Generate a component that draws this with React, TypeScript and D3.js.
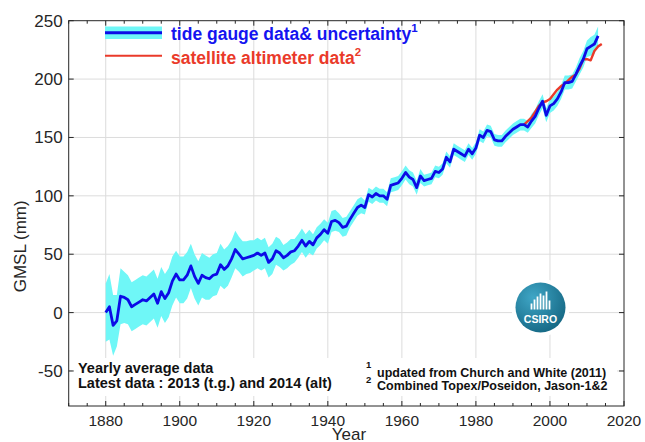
import React from "react";
import * as d3 from "d3";

// yearly GMSL (mm), tide gauge reconstruction, 1880..2013
const tgStart = 1880;
const tideGauge = [
  0, 5, -11, -7, 14, 13, 11, 5, 7, 9,
  11, 10, 13, 16, 8, 18, 12, 17, 27, 33,
  28, 28, 32, 40, 31, 25, 32, 30, 29, 32,
  33, 41, 37, 40, 46, 54, 50, 46, 47, 48,
  49, 51, 49, 51, 43, 46, 53, 51, 47, 49,
  52, 53, 57, 62, 57, 61, 58, 64, 67, 71,
  68, 78, 79, 77, 73, 74, 80, 85, 90, 92,
  90, 101, 99, 102, 100, 100, 97, 109, 110, 111,
  115, 120, 116, 114, 107, 117, 113, 114, 115, 121,
  120, 123, 133, 129, 140, 138, 136, 134, 140, 136,
  141, 152, 150, 156, 155, 148, 147, 147, 151, 154,
  157, 159, 161, 161, 159, 164, 168, 175, 181, 169,
  177, 179, 183, 189, 197, 197, 198, 204, 211, 217,
  226, 228, 230, 237,
];
// half width of the uncertainty band (mm)
const tgUncertainty = [
  25, 28, 26, 22, 24, 22, 21, 21, 21, 21,
  21, 21, 21, 21, 21, 21, 21, 21, 21, 20,
  20, 20, 20, 19, 19, 19, 19, 19, 18, 18,
  18, 18, 17, 17, 16, 16, 15, 15, 14, 14,
  13, 13, 13, 13, 13, 13, 12, 12, 11, 11,
  11, 10, 10, 10, 10, 10, 9, 9, 9, 9,
  9, 9, 9, 8, 8, 8, 7, 7, 7, 7,
  6, 6, 6, 6, 6, 6, 6, 6, 6, 6,
  6, 6, 6, 6, 6, 6, 5, 5, 5, 5,
  5, 5, 5, 5, 5, 5, 5, 5, 5, 5,
  5, 5, 5, 5, 5, 5, 5, 5, 5, 5,
  5, 5, 5, 5, 5, 6, 6, 6, 6, 6,
  6, 6, 6, 6, 6, 6, 6, 6, 7, 7,
  7, 8, 8, 8,
];
// satellite altimetry, 1993..2014
const altStart = 1993;
const altimeter = [
  161, 164, 167, 172, 177, 180, 181, 183, 187, 191,
  194, 196, 199, 202, 204, 209, 217, 217, 216, 224,
  228, 230,
];

const xTicks = [1880, 1900, 1920, 1940, 1960, 1980, 2000, 2020];
const yTicks = [-50, 0, 50, 100, 150, 200, 250];
const logoBars = [6, 10, 13, 16, 14, 18, 9];

const W = 645;
const H = 442;
const left = 68.7;
const right = 624;
const top = 20.7;
const bottom = 406;

const FONT = "'Liberation Sans', Arial, Helvetica, sans-serif";
const AXIS = "#262626";
const CYAN = "#6ff7f7";
const BLUE = "#0c0ce6";
const RED = "#ea3a2a";

type Pt = { year: number; v: number; u: number };

export default function App() {
  const x = d3.scaleLinear().domain([1870, 2020]).range([left, right]);
  const y = d3.scaleLinear().domain([-80, 250]).range([bottom, top]);

  const tg: Pt[] = tideGauge.map((v, i) => ({ year: tgStart + i, v, u: tgUncertainty[i] }));
  const alt = altimeter.map((v, i) => ({ year: altStart + i, v }));

  const band = d3
    .area<Pt>()
    .x((d) => x(d.year))
    .y0((d) => y(d.v - d.u))
    .y1((d) => y(d.v + d.u));
  const line = d3
    .line<{ year: number; v: number }>()
    .x((d) => x(d.year))
    .y((d) => y(d.v));

  const minor = d3.range(1870, 2021, 5).filter((t) => t % 20 !== 0);

  const cx = 540.5;
  const cy = 307.5;

  return (
    <svg
      width={W}
      height={H}
      style={{ position: "absolute", left: 0, top: 0, background: "#fff" }}
      fontFamily={FONT}
    >
      <rect width={W} height={H} fill="#fff" />
      {/* grid */}
      <g stroke="#dcdcdc" strokeWidth={1}>
        {xTicks.slice(0, -1).map((t) => (
          <line key={"gx" + t} x1={x(t)} x2={x(t)} y1={top} y2={bottom} />
        ))}
        {yTicks.slice(0, -1).map((t) => (
          <line key={"gy" + t} x1={left} x2={right} y1={y(t)} y2={y(t)} />
        ))}
      </g>

      {/* white boxes behind notes and logo */}
      <rect x={72} y={358} width={545} height={38} fill="#fff" />
      <circle cx={cx} cy={cy} r={29} fill="#fff" />

      <path d={band(tg) ?? ""} fill={CYAN} stroke="none" />
      <path d={line(alt) ?? ""} fill="none" stroke={RED} strokeWidth={2.4} strokeLinejoin="round" />
      <path d={line(tg) ?? ""} fill="none" stroke={BLUE} strokeWidth={2.8} strokeLinejoin="round" />

      {/* frame and ticks */}
      <rect x={left} y={top} width={right - left} height={bottom - top} fill="none" stroke={AXIS} strokeWidth={1} />
      <g stroke={AXIS} strokeWidth={1}>
        {xTicks.map((t) => (
          <g key={"tx" + t}>
            <line x1={x(t)} x2={x(t)} y1={bottom} y2={bottom - 5} />
            <line x1={x(t)} x2={x(t)} y1={top} y2={top + 5} />
          </g>
        ))}
        {minor.map((t) => (
          <g key={"mx" + t}>
            <line x1={x(t)} x2={x(t)} y1={bottom} y2={bottom - 3} />
            <line x1={x(t)} x2={x(t)} y1={top} y2={top + 3} />
          </g>
        ))}
        {yTicks.map((t) => (
          <g key={"ty" + t}>
            <line x1={left} x2={left + 5} y1={y(t)} y2={y(t)} />
            <line x1={right} x2={right - 5} y1={y(t)} y2={y(t)} />
          </g>
        ))}
      </g>
      <g fill={AXIS}>
        {xTicks.map((t) => (
          <text key={"lx" + t} x={x(t)} y={425.5} fontSize={15.5} textAnchor="middle">
            {t}
          </text>
        ))}
        {yTicks.map((t) => (
          <text key={"ly" + t} x={left - 6} y={y(t)} dy="0.35em" fontSize={17} textAnchor="end">
            {t}
          </text>
        ))}
        <text x={349} y={439.5} fontSize={17} textAnchor="middle">
          Year
        </text>
        <text transform={`translate(26,${(top + bottom) / 2 + 33}) rotate(-90)`} fontSize={17} textAnchor="middle">
          GMSL (mm)
        </text>
      </g>

      {/* legend */}
      <rect x={105} y={26.5} width={57} height={12.5} fill={CYAN} />
      <line x1={105} x2={162} y1={32.7} y2={32.7} stroke={BLUE} strokeWidth={3} />
      <line x1={105} x2={162} y1={55.7} y2={55.7} stroke={RED} strokeWidth={2} />
      <text x={171} y={39.5} fill="#1414f0" fontSize={17.5} fontWeight="bold">
        tide gauge data&amp; uncertainty
        <tspan dy={-8} fontSize={11.5}>1</tspan>
      </text>
      <text x={171} y={63.5} fill={RED} fontSize={17.5} fontWeight="bold">
        satellite altimeter data
        <tspan dy={-8} fontSize={11.5}>2</tspan>
      </text>

      {/* notes */}
      <g fill="#111" fontWeight="bold">
        <text x={78} y={373} fontSize={14.5}>Yearly average data</text>
        <text x={78} y={387.5} fontSize={14.5}>Latest data : 2013 (t.g.) and 2014 (alt)</text>
        <text x={366} y={368} fontSize={9.5}>1</text>
        <text x={377} y={377} fontSize={12.5}>updated from Church and White (2011)</text>
        <text x={366} y={383} fontSize={9.5}>2</text>
        <text x={377} y={389.5} fontSize={12.5}>Combined Topex/Poseidon, Jason-1&amp;2</text>
      </g>

      {/* CSIRO logo */}
      <defs>
        <radialGradient id="lg" cx="35%" cy="30%" r="80%">
          <stop offset="0%" stopColor="#3fa6c6" />
          <stop offset="100%" stopColor="#136480" />
        </radialGradient>
      </defs>
      <circle cx={cx} cy={cy} r={25} fill="url(#lg)" />
      <g stroke="#fff" strokeWidth={1.8}>
        {logoBars.map((h, i) => (
          <line key={i} x1={cx - 9 + i * 3} x2={cx - 9 + i * 3} y1={cy + 2} y2={cy + 2 - h} />
        ))}
      </g>
      <text x={cx} y={cy + 15} fill="#fff" fontSize={10.5} fontWeight="bold" textAnchor="middle">
        CSIRO
      </text>
    </svg>
  );
}
